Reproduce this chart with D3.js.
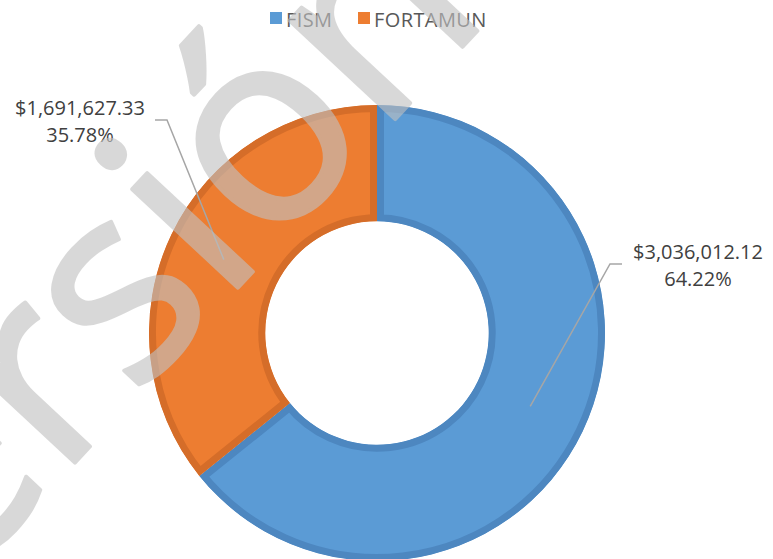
<!DOCTYPE html>
<html lang="es">
<head>
    <meta charset="UTF-8">
    <title>FISM / FORTAMUN</title>
    <script src="https://d3js.org/d3.v7.min.js" charset="utf-8"></script>
    <style>
        body { margin: 0; background: #fff; }
        svg { display: block; }
        .lbl { font-family: 'Open Sans', sans-serif; font-size: 20px; fill: #404040; }
        .legend text { font-family: 'Open Sans', sans-serif; font-size: 20px; fill: #595959; letter-spacing: 0.4px; }
    </style>
</head>
<body>
    <div id="donut_chart"></div>
    <script>
        // chart data
        var categories = ['FISM', 'FORTAMUN'];
        var values = [3036012.12, 1691627.33];
        var fills = ['#5b9bd5', '#ed7d31'];
        var borders = ['#4d87c0', '#d56d29'];

        var svgwidth = 773;
        var svgheight = 559;
        var cx = 377, cy = 333;
        var radius = 228;

        var fmtMoney = d3.format('$,.2f');
        var fmtPct = d3.format('.2%');
        var total = d3.sum(values);

        var svg = d3.select('#donut_chart').append('svg')
            .attr('width', svgwidth)
            .attr('height', svgheight);

        var g = svg.append('g')
            .attr('transform', 'translate(' + cx + ',' + cy + ')');

        var pie = d3.pie().sort(null).value(function (d) { return d.value; });
        var arc = d3.arc().innerRadius(radius * 0.49).outerRadius(radius);
        var midArc = d3.arc().innerRadius(radius * 0.745).outerRadius(radius * 0.745);

        var slices = pie(categories.map(function (c, i) { return { cat: c, value: values[i], i: i }; }));

        var defs = svg.append('defs');
        slices.forEach(function (d, i) {
            defs.append('clipPath').attr('id', 'clip' + i)
                .append('path').attr('d', arc(d));
        });

        // slices, border kept inside each slice
        g.selectAll('path.slice')
            .data(slices)
            .enter().append('path')
            .attr('class', 'slice')
            .attr('d', arc)
            .attr('fill', function (d) { return fills[d.data.i]; })
            .attr('stroke', function (d) { return borders[d.data.i]; })
            .attr('stroke-width', 14)
            .attr('clip-path', function (d, i) { return 'url(#clip' + i + ')'; });

        // data labels (elbow offsets relative to the centre, like excel puts them)
        var labelOffsets = [
            { ex: 233, ey: -69, dir: 1, tx: 321, ty: -74 },
            { ex: -210, ey: -213, dir: -1, tx: -297, ty: -218 }
        ];

        slices.forEach(function (d, i) {
            var o = labelOffsets[i];
            var c = midArc.centroid(d);
            g.append('polyline')
                .attr('points', [[c[0], c[1]], [o.ex, o.ey], [o.ex + o.dir * 12, o.ey]].map(function (p) { return p.join(','); }).join(' '))
                .attr('fill', 'none')
                .attr('stroke', '#a6a6a6')
                .attr('stroke-width', 1.5);

            var t = g.append('text').attr('class', 'lbl').attr('text-anchor', 'middle');
            t.append('tspan').attr('x', o.tx).attr('y', o.ty).text(fmtMoney(d.data.value));
            t.append('tspan').attr('x', o.tx).attr('y', o.ty + 27).text(fmtPct(d.data.value / total));
        });

        // legend
        var legend = svg.append('g').attr('class', 'legend');
        var lx = [270, 358];
        categories.forEach(function (c, i) {
            legend.append('rect')
                .attr('x', lx[i]).attr('y', 12)
                .attr('width', 12).attr('height', 12)
                .attr('fill', fills[i]);
            legend.append('text')
                .attr('x', lx[i] + 16).attr('y', 27)
                .text(c);
        });

        // watermark on top of everything
        svg.append('g')
            .attr('opacity', 0.61)
            .append('text')
            .attr('transform', 'translate(-154,708) rotate(-47)')
            .style('font-family', 'Open Sans, sans-serif')
            .style('font-size', '270px')
            .attr('fill', '#c1c1c1')
            .attr('stroke', '#c1c1c1')
            .attr('stroke-width', 4)
            .attr('stroke-linejoin', 'round')
            .text('Versión preliminar');
    </script>
</body>
</html>
